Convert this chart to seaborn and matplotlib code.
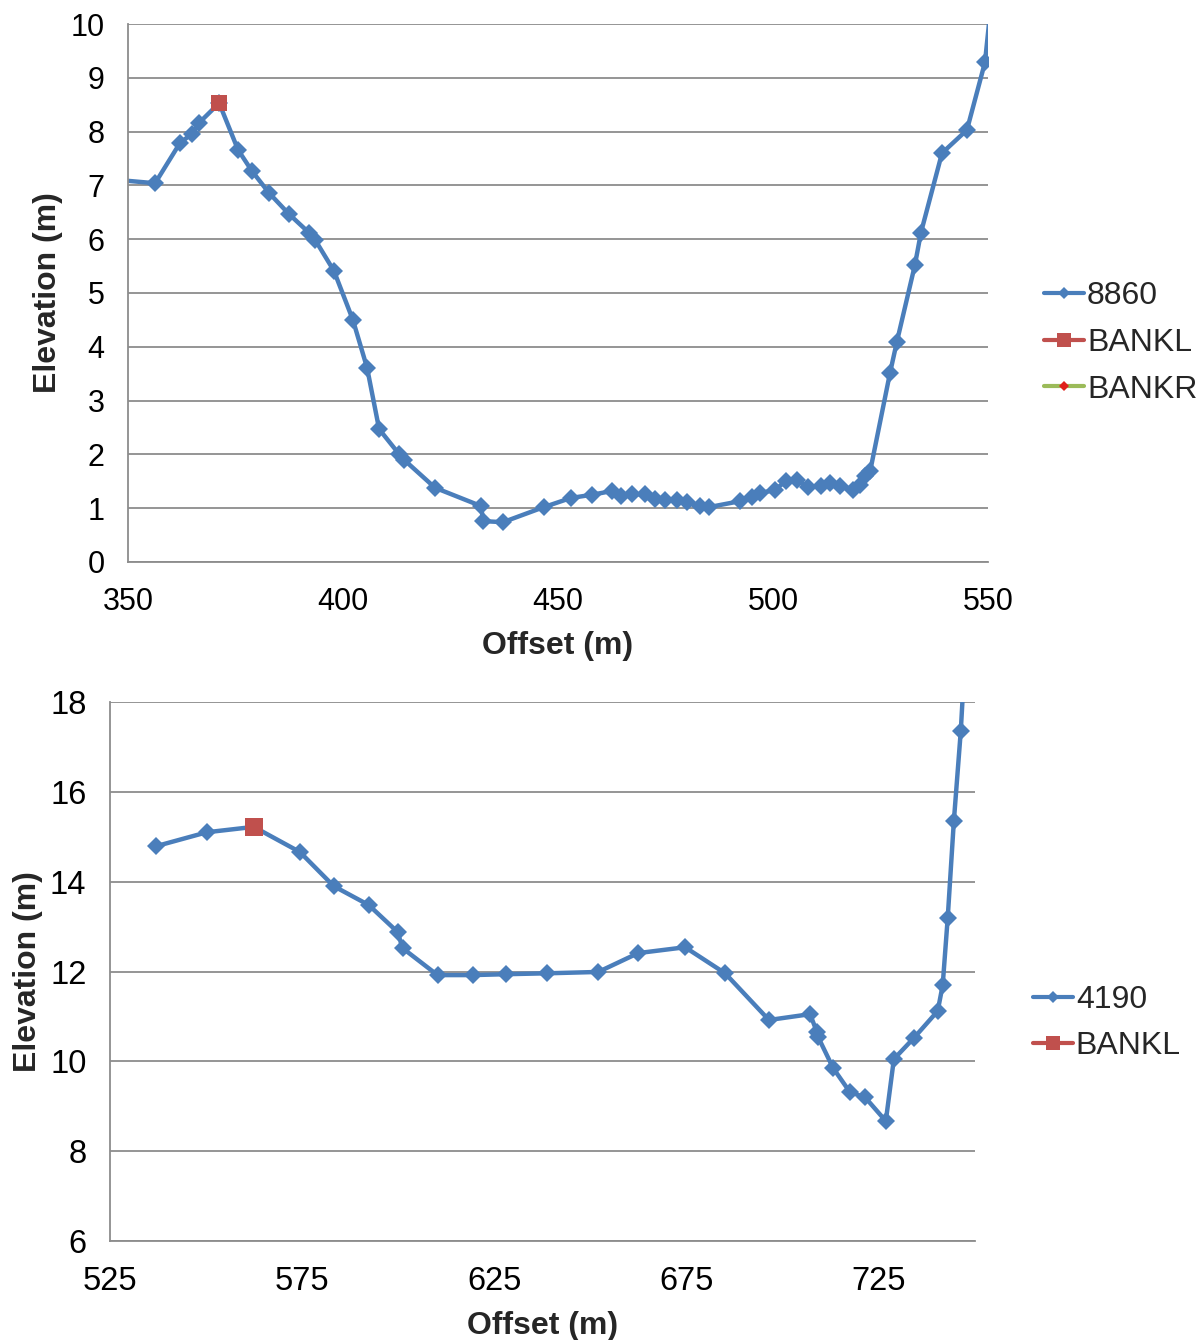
import matplotlib
matplotlib.use("Agg")
import matplotlib.pyplot as plt
from matplotlib.lines import Line2D
import seaborn as sns
import pandas as pd

# Cross-section 8860
offset_8860 = [345.0, 356.3, 362.1, 364.9, 366.5, 371.2, 375.6, 378.8, 382.8, 387.4,
               392.1, 393.5, 397.9, 402.3, 405.6, 408.4, 413.0, 414.2, 421.4, 432.1,
               432.6, 437.2, 446.7, 453.0, 457.9, 462.6, 464.7, 467.2, 470.2, 472.6,
               474.9, 477.7, 480.0, 483.0, 485.1, 492.3, 495.1, 497.0, 500.5, 503.0,
               505.6, 508.1, 511.2, 513.3, 515.6, 518.6, 520.2, 521.4, 522.6, 527.2,
               528.8, 533.0, 534.4, 539.3, 545.1, 549.3, 551.0]
elev_8860 = [7.12, 7.04, 7.79, 7.96, 8.16, 8.53, 7.66, 7.27, 6.86, 6.47,
             6.12, 5.99, 5.41, 4.50, 3.61, 2.47, 2.01, 1.90, 1.38, 1.04,
             0.76, 0.74, 1.02, 1.19, 1.25, 1.32, 1.23, 1.26, 1.26, 1.17,
             1.15, 1.15, 1.12, 1.04, 1.02, 1.13, 1.21, 1.28, 1.34, 1.51,
             1.52, 1.39, 1.41, 1.47, 1.41, 1.34, 1.43, 1.60, 1.69, 3.51,
             4.09, 5.52, 6.12, 7.60, 8.03, 9.29, 10.6]
bankl_8860_x = [371.2]
bankl_8860_y = [8.53]

# Cross-section 4190
offset_4190 = [537.0, 550.2, 562.4, 574.4, 583.2, 592.3, 599.8, 601.1, 610.2, 619.3,
               628.1, 638.8, 652.0, 662.4, 674.6, 685.0, 696.4, 707.1, 708.9, 709.2,
               713.1, 717.5, 721.4, 726.8, 728.9, 734.1, 740.3, 741.6, 742.9, 744.5,
               746.3, 747.5]
elev_4190 = [14.79, 15.10, 15.22, 14.66, 13.90, 13.48, 12.88, 12.52, 11.92, 11.92,
             11.94, 11.96, 11.99, 12.41, 12.54, 11.96, 10.92, 11.05, 10.65, 10.54,
             9.85, 9.31, 9.20, 8.67, 10.05, 10.52, 11.12, 11.70, 13.19, 15.35,
             17.35, 19.2]
bankl_4190_x = [562.4]
bankl_4190_y = [15.22]

BLUE = "#4A7EBB"
RED = "#C0504D"
GREEN = "#9BBB59"
GRID = "#8C8C8C"

sns.set_theme(style="white")
plt.rcParams["font.family"] = ["Liberation Sans", "DejaVu Sans"]

fig = plt.figure(figsize=(12.04, 13.40), dpi=100)
W, H = 1204, 1340
ax1 = fig.add_axes([128 / W, 1 - 562 / H, 860 / W, 538 / H])
ax2 = fig.add_axes([110 / W, 1 - 1241 / H, 865 / W, 539 / H])

line_kw = dict(color=BLUE, linewidth=3.2, marker="D", markersize=9,
               markeredgewidth=0, sort=False, estimator=None)


def style_axes(ax, xlim, ylim, xticks, yticks, size):
    ax.set_xlim(*xlim)
    ax.set_ylim(*ylim)
    ax.set_xticks(xticks)
    ax.set_yticks(yticks)
    ax.tick_params(axis="both", labelsize=size, colors="black", length=9,
                   width=1.3, direction="out")
    ax.tick_params(axis="x", color=GRID, pad=9)
    ax.tick_params(axis="y", color=GRID, pad=8)
    ax.yaxis.grid(True, color=GRID, linewidth=1.3)
    ax.xaxis.grid(False)
    for side in ("top", "right"):
        ax.spines[side].set_visible(False)
    for side in ("left", "bottom"):
        ax.spines[side].set_color(GRID)
        ax.spines[side].set_linewidth(1.3)
    ax.set_axisbelow(True)


# Upper panel
df1 = pd.DataFrame({"Offset": offset_8860, "Elevation": elev_8860})
sns.lineplot(data=df1, x="Offset", y="Elevation", ax=ax1, **line_kw)
sns.scatterplot(x=bankl_8860_x, y=bankl_8860_y, ax=ax1, color=RED, marker="s",
                s=140, linewidth=0, zorder=5)
style_axes(ax1, (350, 550), (0, 10), range(350, 551, 50), range(0, 11), 22)
ax1.set_xlabel("Offset (m)", fontsize=23, fontweight="bold", labelpad=10)
ax1.set_ylabel("Elevation (m)", fontsize=23, fontweight="bold", labelpad=5)

h1 = [Line2D([], [], color=BLUE, lw=3, marker="D", ms=6, mew=0),
      Line2D([], [], color=RED, lw=3, marker="s", ms=10, mew=0),
      Line2D([], [], color=GREEN, lw=3, marker="D", ms=5, mew=0, mfc="#E0201B")]
fig.legend(h1, ["8860", "BANKL", "BANKR"], loc="center left",
           bbox_to_anchor=(1015 / W, 1 - 343 / H), frameon=False, fontsize=23,
           handlelength=1.25, handletextpad=0.1, labelspacing=0.52)

# Lower panel
df2 = pd.DataFrame({"Offset": offset_4190, "Elevation": elev_4190})
sns.lineplot(data=df2, x="Offset", y="Elevation", ax=ax2, **line_kw)
sns.scatterplot(x=bankl_4190_x, y=bankl_4190_y, ax=ax2, color=RED, marker="s",
                s=150, linewidth=0, zorder=5)
style_axes(ax2, (525, 750), (6, 18), range(525, 726, 50), range(6, 19, 2), 23.5)
ax2.set_xlabel("Offset (m)", fontsize=23, fontweight="bold", labelpad=10)
ax2.set_ylabel("Elevation (m)", fontsize=23, fontweight="bold", labelpad=5)

h2 = [Line2D([], [], color=BLUE, lw=3, marker="D", ms=6, mew=0),
      Line2D([], [], color=RED, lw=3, marker="s", ms=10, mew=0)]
fig.legend(h2, ["4190", "BANKL"], loc="center left",
           bbox_to_anchor=(1004 / W, 1 - 1023 / H), frameon=False, fontsize=23,
           handlelength=1.25, handletextpad=0.1, labelspacing=0.52)

fig.savefig("out.png", dpi=100)
